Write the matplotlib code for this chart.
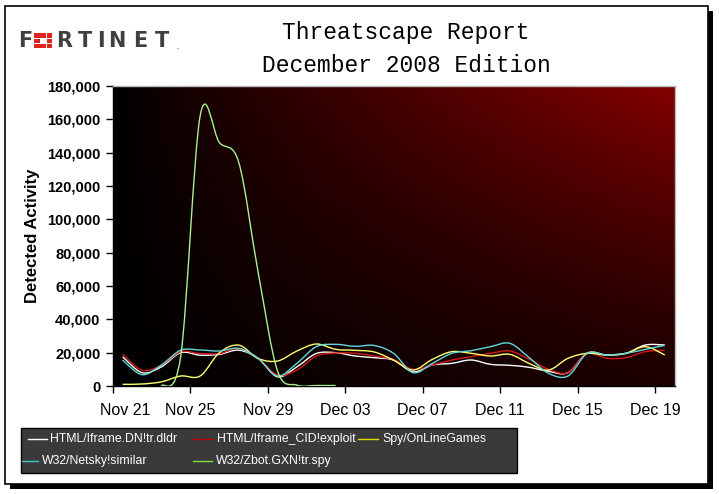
import numpy as np
import pandas as pd
import matplotlib
matplotlib.use('Agg')
import matplotlib.pyplot as plt
import matplotlib.dates as mdates
from matplotlib.path import Path
from matplotlib.patches import PathPatch, Rectangle
from matplotlib.lines import Line2D
from matplotlib.ticker import FuncFormatter, MultipleLocator
from matplotlib.transforms import ScaledTranslation

# daily values (Nov 21 .. Dec 19)
days = pd.date_range('2008-11-21', '2008-12-19', freq='D')
names = ['HTML/Iframe.DN!tr.dldr', 'HTML/Iframe_CID!exploit', 'Spy/OnLineGames',
         'W32/Netsky!similar', 'W32/Zbot.GXN!tr.spy']
iframe_dn = [17500, 8000, 11500, 20000, 18500, 19000, 21500, 16500, 5500, 11500,
             19500, 20000, 18000, 17000, 15500, 8500, 12600, 13600, 15600, 13000,
             12400, 11200, 8800, 8000, 19800, 18600, 19600, 24600, 24600]
iframe_cid = [19000, 9500, 12500, 20500, 19500, 19500, 22500, 16600, 6600, 9600,
              18000, 19800, 19600, 18000, 15800, 10000, 12600, 15600, 17600, 19600,
              21000, 16000, 10000, 8000, 19500, 16600, 17000, 20600, 21400]
onlinegames = [1000, 1200, 2500, 6000, 6000, 20000, 24500, 16500, 15000, 21000,
               25200, 22000, 21400, 20400, 15500, 9600, 16000, 20600, 19600, 18000,
               19000, 13500, 9600, 16600, 19600, 18600, 19600, 23600, 18600]
netsky = [15500, 6800, 12600, 21500, 21600, 21000, 22600, 16600, 6000, 13600,
          23600, 25000, 23800, 24300, 19500, 8000, 13600, 19600, 21200, 23600,
          25600, 17000, 7600, 6000, 19600, 18600, 19600, 22000, 24400]
zbot = [np.nan, np.nan, 0, 18000, 162000, 146000, 134000, 68000, 9000, 500,
        300, 300] + [np.nan] * 17
colors = ['#ffffff', '#d01818', '#ffff70', '#60d8d8', '#a8f090']
legend_colors = ['#ffffff', '#c00000', '#e0e000', '#40c8c8', '#80e040']

W, H = 719, 494


def fx(x):
    return x / W


def fy(y):
    return 1 - y / H


def smooth_path(xs, ys):
    # Excel style smoothed line: cubic bezier through the points
    ys = np.asarray(ys, dtype=float)
    idx = np.flatnonzero(~np.isnan(ys))
    runs = np.split(idx, np.flatnonzero(np.diff(idx) > 1) + 1)
    verts, codes = [], []
    for r in runs:
        px, py = xs[r], ys[r]
        n = len(px)
        verts.append((px[0], py[0]))
        codes.append(Path.MOVETO)
        for k in range(n - 1):
            a = max(k - 1, 0)
            b = min(k + 2, n - 1)
            c1 = (px[k] + (px[k + 1] - px[a]) / 6, py[k] + (py[k + 1] - py[a]) / 6)
            c2 = (px[k + 1] - (px[b] - px[k]) / 6, py[k + 1] - (py[b] - py[k]) / 6)
            verts += [c1, c2, (px[k + 1], py[k + 1])]
            codes += [Path.CURVE4] * 3
    return Path(verts, codes)


fig = plt.figure(figsize=(W / 100, H / 100), dpi=100)
fig.patch.set_facecolor('white')

# frame with shadow
fig.add_artist(Rectangle((fx(10), fy(489)), fx(703), 478 / H, transform=fig.transFigure,
                         facecolor='black', edgecolor='none', zorder=-3))
fig.add_artist(Rectangle((fx(5), fy(484)), fx(703), 478 / H, transform=fig.transFigure,
                         facecolor='white', edgecolor='black', lw=1.2, zorder=-2))

ax = fig.add_axes([fx(113), fy(386), 562 / W, 300 / H])

# background gradient
gx = np.linspace(0, 1, 400)
gy = np.linspace(1, 0, 200)
X, Y = np.meshgrid(gx, gy)
img = np.zeros((200, 400, 3))
img[..., 0] = (132 * X ** 0.9 * (0.22 + 0.78 * Y ** 1.3)) / 255
ax.imshow(img, extent=[0, 1, 0, 1], transform=ax.transAxes, aspect='auto',
          zorder=0, interpolation='bilinear')

xs = mdates.date2num(days) + 0.5
for vals, c in zip([iframe_dn, iframe_cid, onlinegames, netsky, zbot], colors):
    ax.add_patch(PathPatch(smooth_path(xs, vals), facecolor='none', edgecolor=c,
                           lw=1.0, zorder=3))

x0 = mdates.date2num(days[0])
ax.set_xlim(x0, x0 + 29.03)
ax.set_ylim(0, 180000)
ax.set_xticks(mdates.date2num(days[::4]))
ax.xaxis.set_major_formatter(mdates.DateFormatter('%b %d'))
ax.yaxis.set_major_locator(MultipleLocator(20000))
ax.yaxis.set_major_formatter(FuncFormatter(lambda v, p: '{:,.0f}'.format(v)))

for s in ['left', 'bottom']:
    ax.spines[s].set_color('black')
    ax.spines[s].set_linewidth(1.0)
for s in ['top', 'right']:
    ax.spines[s].set_color('#b8b8b8')
    ax.spines[s].set_linewidth(1.0)

ax.tick_params(axis='x', direction='out', length=5, width=1, pad=7, labelsize=11.5)
ax.tick_params(axis='y', direction='out', length=5, width=1, pad=4, labelsize=10.5)
for lab in ax.get_xticklabels():
    lab.set_family('Liberation Sans')
for lab in ax.get_yticklabels():
    lab.set_family('Liberation Sans')
    lab.set_fontweight('bold')
first = ax.get_xticklabels()[0]
first.set_transform(first.get_transform() + ScaledTranslation(12 / 100, 0, fig.dpi_scale_trans))

ax.set_ylabel('Detected Activity', fontsize=12, fontweight='bold', family='Liberation Sans')
ax.yaxis.set_label_coords((40 - 113) / 562, 0.5)

# title
fig.text(fx(406), fy(33), 'Threatscape Report', family='Liberation Mono', fontsize=16.5,
         ha='center', va='center')
fig.text(fx(406), fy(65), 'December 2008 Edition', family='Liberation Mono', fontsize=16.5,
         ha='center', va='center')

# logo
for ch, cx in zip('FRTINET', [25, 64, 85, 101, 117, 140, 162]):
    fig.text(fx(cx), fy(41), ch, family='DejaVu Sans', fontsize=15, fontweight='bold',
             color='#404040', ha='center', va='center')
fig.text(fx(178), fy(46), '.', family='DejaVu Sans', fontsize=8, color='#606060',
         ha='center', va='center')
for r in range(3):
    for c in range(3):
        if r == 1 and c == 1:
            continue
        fig.add_artist(Rectangle((fx(34 + c * 6.3), fy(38 + r * 5.2)), 5.6 / W, 4.6 / H,
                                 transform=fig.transFigure, facecolor='#e2231a',
                                 edgecolor='none'))

# legend box
fig.add_artist(Rectangle((fx(21), fy(473)), 496 / W, 45 / H, transform=fig.transFigure,
                         facecolor='#3a3a3a', edgecolor='black', lw=1.0, zorder=2))
items = [(28, 47, 50, 439), (193, 213, 217, 439), (358, 378, 382, 439),
         (22, 38, 42, 461), (193, 212, 216, 461)]
for (l1, l2, tx, yy), name, c in zip(items, names, legend_colors):
    fig.add_artist(Line2D([fx(l1), fx(l2)], [fy(yy), fy(yy)], color=c, lw=1.0,
                          transform=fig.transFigure, zorder=3))
    fig.text(fx(tx), fy(yy), name, color='white', fontsize=8.8,
             family='Liberation Sans', ha='left', va='center', zorder=3)

fig.savefig('out.png', dpi=100)
